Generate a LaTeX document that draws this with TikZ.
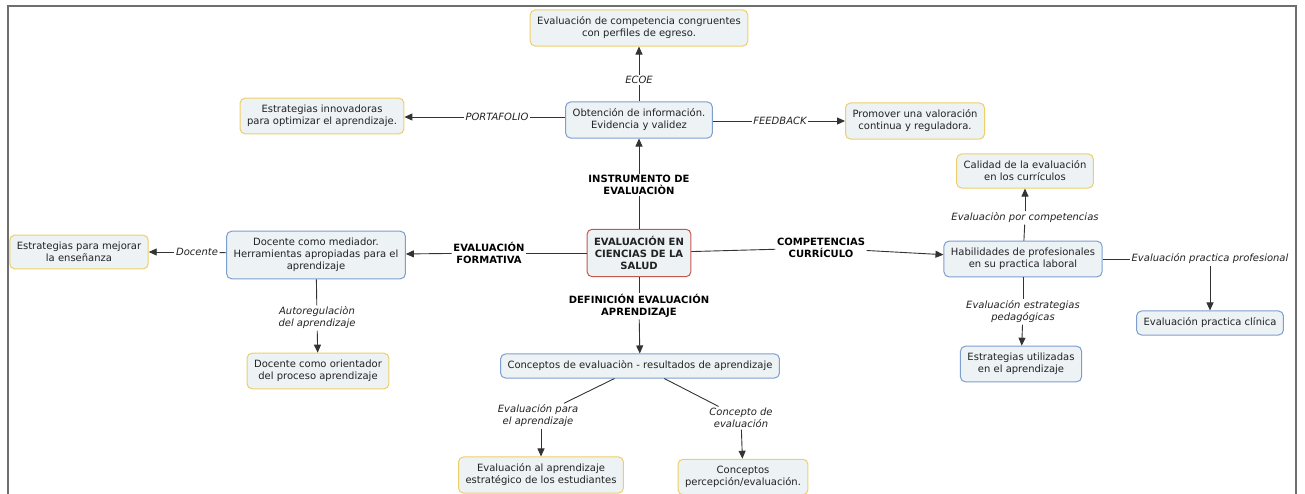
\documentclass[tikz,border=0pt]{standalone}
\usepackage{fontspec}
\setmainfont{DejaVu Sans}
\usetikzlibrary{arrows.meta}
\definecolor{boxfill}{HTML}{EDF2F5}
\definecolor{yb}{HTML}{EDCF6A}
\definecolor{bb}{HTML}{7C9FD0}
\definecolor{rb}{HTML}{C65550}
\definecolor{txt}{HTML}{222222}
\definecolor{lc}{HTML}{333333}
\definecolor{frame}{HTML}{6E6E6E}
\begin{document}
\begin{tikzpicture}[x=1pt,y=-1pt,
  box/.style={draw, rounded corners=5pt, fill=boxfill, align=center, inner xsep=7pt, inner ysep=7pt, line width=1pt, font=\fontsize{10}{12}\selectfont, text=txt},
  ybox/.style={box, draw=yb},
  bbox/.style={box, draw=bb},
  rbox/.style={box, draw=rb},
  lab/.style={font=\fontsize{10}{12}\selectfont\itshape, align=center, inner sep=1.5pt, text=txt},
  blab/.style={font=\fontsize{10}{12}\selectfont\bfseries, align=center, inner sep=1.5pt, text=black},
  conn/.style={draw=lc, line width=0.9pt},
  arr/.style={conn, -{Triangle[length=8pt,width=7pt]}}
]
\useasboundingbox (0,0) rectangle (1305,493);
\clip (0,0) rectangle (1305,493);
\draw[frame, line width=1.6pt] (8,500) -- (8,6) -- (1296,6) -- (1296,500);

% nodes
\node[ybox] (top) at (639,28) {Evaluación de competencia congruentes\\con perfiles de egreso.};
\node[bbox] (obt) at (639,120) {Obtención de información.\\Evidencia y validez};
\node[ybox] (innov) at (322,116) {Estrategias innovadoras\\para optimizar el aprendizaje.};
\node[ybox] (prom) at (915,121) {Promover una valoración\\continua y reguladora.};
\node[ybox] (cal) at (1025,171) {Calidad de la evaluación\\en los currículos};
\node[bbox] (hab) at (1023,259) {Habilidades de profesionales\\en su practica laboral};
\node[bbox] (clin) at (1210,323) {Evaluación practica clínica};
\node[bbox] (util) at (1021,364) {Estrategias utilizadas\\en el aprendizaje};
\node[rbox, font=\fontsize{10}{12}\selectfont\bfseries] (cen) at (639,253) {EVALUACIÓN EN\\CIENCIAS DE LA\\SALUD};
\node[bbox] (med) at (316,255) {Docente como mediador.\\Herramientas apropiadas para el\\aprendizaje};
\node[ybox] (mej) at (79,252) {Estrategias para mejorar\\la enseñanza};
\node[ybox] (ori) at (318,371) {Docente como orientador\\del proceso aprendizaje};
\node[bbox] (conc) at (640,366) {Conceptos de evaluaciòn - resultados de aprendizaje};
\node[ybox] (alap) at (541,475) {Evaluación al aprendizaje\\estratégico de los estudiantes};
\node[ybox] (perc) at (743,477) {Conceptos\\percepción/evaluación.};

% labels
\node[lab] (lecoe) at (639,80) {ECOE};
\node[lab] (lport) at (497,117) {PORTAFOLIO};
\node[lab] (lfeed) at (780,121) {FEEDBACK};
\node[blab] (linst) at (639,185) {INSTRUMENTO DE\\EVALUACIÒN};
\node[blab] (lform) at (489,253) {EVALUACIÓN\\FORMATIVA};
\node[blab] (lcomp) at (821,248) {COMPETENCIAS\\CURRÍCULO};
\node[blab] (ldef) at (639,306) {DEFINICIÓN EVALUACIÓN\\APRENDIZAJE};
\node[lab] (ldoc) at (197,252) {Docente};
\node[lab] (lauto) at (317,318) {Autoregulaciòn\\del aprendizaje};
\node[lab] (lpcomp) at (1025,218) {Evaluaciòn por competencias};
\node[lab] (lestr) at (1023,312) {Evaluación estrategias\\pedagógicas};
\node[lab] (lprof) at (1210,259) {Evaluación practica profesional};
\node[lab] (lpara) at (538,416) {Evaluación para\\el aprendizaje};
\node[lab] (lconc) at (741,418) {Concepto de\\evaluación};

% connectors
\draw[conn] (cen) -- (linst);  \draw[arr] (linst) -- (obt);
\draw[conn] (obt) -- (lecoe);  \draw[arr] (lecoe) -- (top);
\draw[conn] (lport -| obt.west) -- (lport);  \draw[arr] (lport) -- (lport -| innov.east);
\draw[conn] (obt.east |- lfeed) -- (lfeed);  \draw[arr] (lfeed) -- (lfeed -| prom.west);
\draw[conn] (cen) -- (lform);  \draw[arr] (lform) -- (med);
\draw[conn] (med) -- (ldoc);  \draw[arr] (ldoc) -- (mej);
\draw[conn] (med) -- (lauto);  \draw[arr] (lauto) -- (ori);
\draw[conn] (cen) -- (lcomp);  \draw[arr] (lcomp) -- (hab);
\draw[conn] (hab) -- (lpcomp);  \draw[arr] (lpcomp) -- (cal);
\draw[conn] (hab) -- (lestr);  \draw[arr] (lestr) -- (util);
\draw[conn] (hab) -- (lprof);  \draw[arr] (lprof) -- (clin);
\draw[conn] (cen) -- (ldef);  \draw[arr] (ldef) -- (conc);
\draw[conn] (conc) -- (lpara);  \draw[arr] (lpara.south -| alap) -- (alap);
\draw[conn] (conc) -- (lconc);  \draw[arr] (lconc) -- (perc);
\end{tikzpicture}
\end{document}
